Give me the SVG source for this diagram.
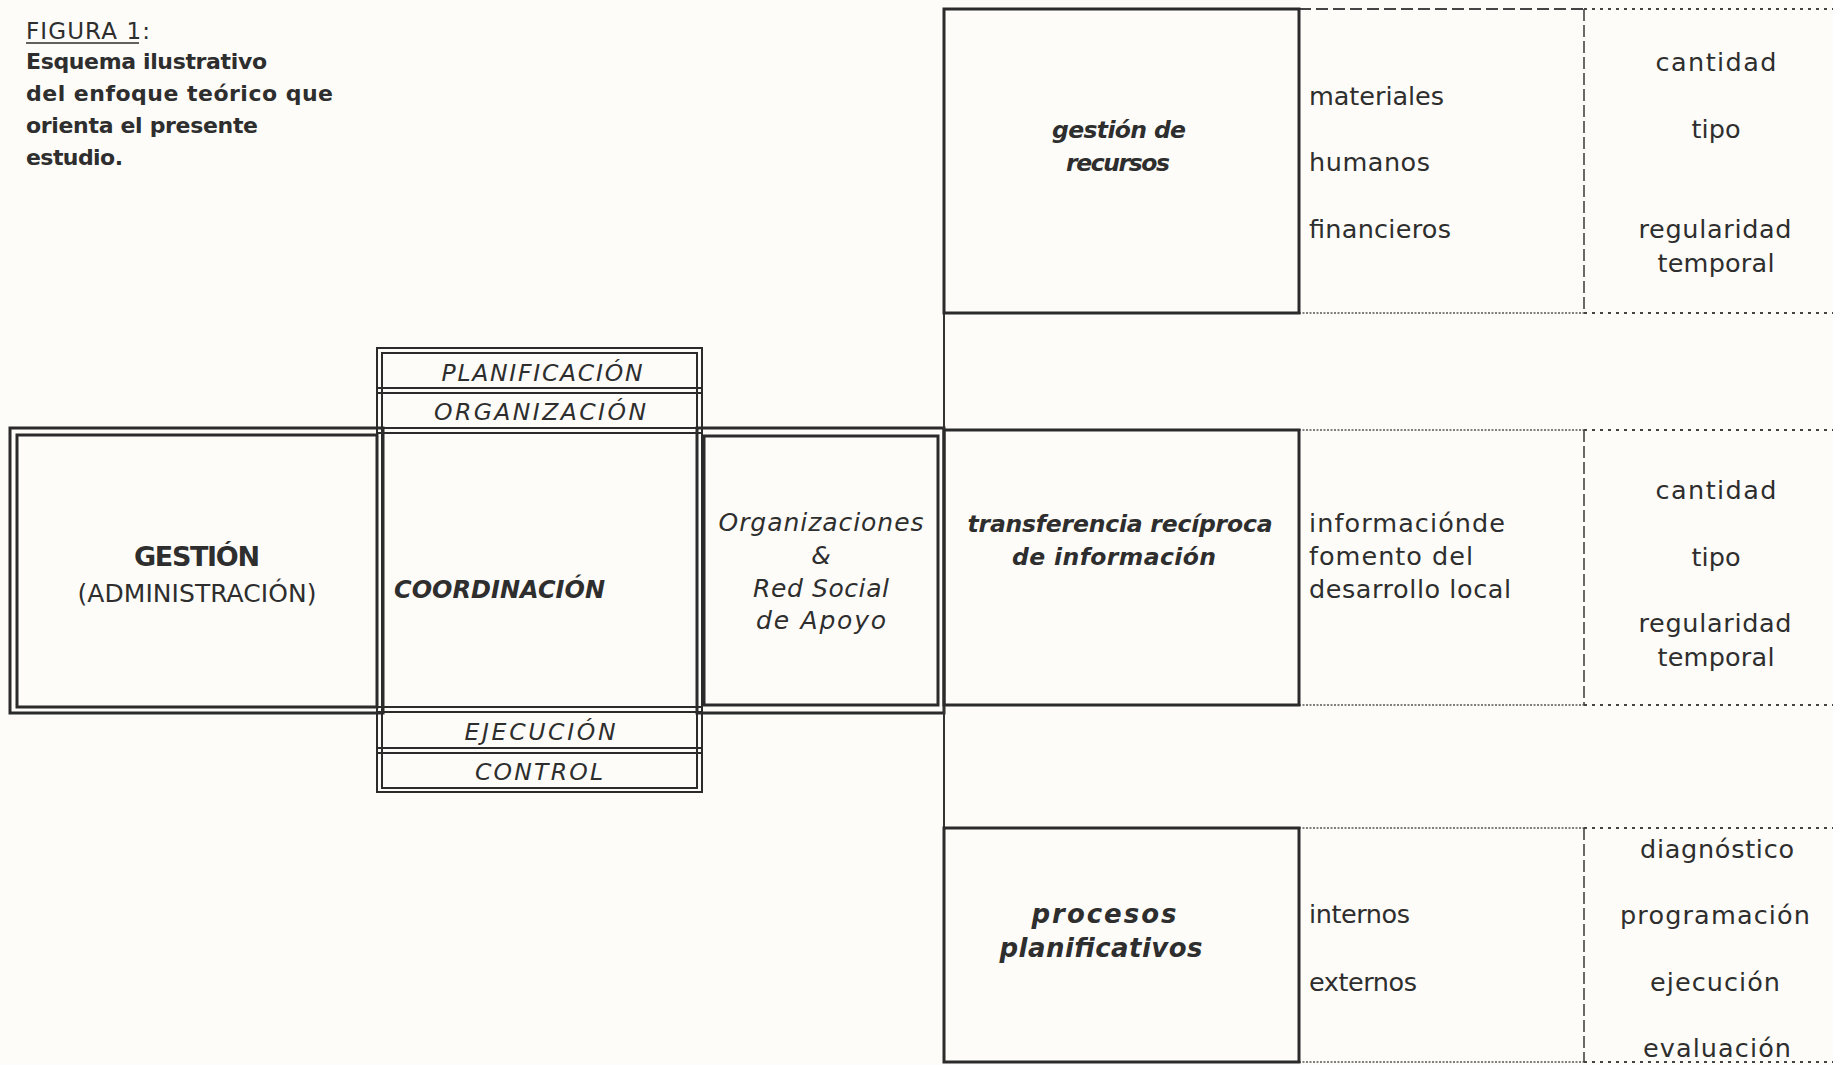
<svg xmlns="http://www.w3.org/2000/svg" width="1833" height="1065" viewBox="0 0 1833 1065">
<style>
text { font-family: "DejaVu Sans", "Liberation Sans", sans-serif; fill: #2e2e2e; }
.reg { font-size: 25.5px; }
.bi { font-size: 23.5px; font-weight: bold; font-style: italic; }
.it { font-size: 23.5px; font-style: italic; }
.tb { font-size: 22px; font-weight: bold; }
.mid { text-anchor: middle; }
.box { fill: none; stroke: #2b2b2b; stroke-width: 3; }
.dbl { fill: none; stroke: #2b2b2b; stroke-width: 2; }
.ln { fill: none; stroke: #333; stroke-width: 2; }
.dash { fill: none; stroke: #444; stroke-width: 2; stroke-dasharray: 12 5; }
.fine { fill: none; stroke: #555; stroke-width: 1.6; stroke-dasharray: 2 1.5; }
.dot { fill: none; stroke: #444; stroke-width: 2.2; stroke-dasharray: 3 5; }
.vdash { fill: none; stroke: #444; stroke-width: 1.6; stroke-dasharray: 12 4; }
</style>
<rect x="0" y="0" width="1833" height="1065" fill="#fdfcf8"/>

<g id="title">
  <text x="26" y="39" style="font-size:23px" textLength="124">FIGURA 1:</text>
  <line x1="26" y1="43" x2="139" y2="43" stroke="#2e2e2e" stroke-width="1.5"/>
  <text class="tb" x="26" y="69" textLength="241">Esquema ilustrativo</text>
  <text class="tb" x="26" y="101" textLength="307">del enfoque teórico que</text>
  <text class="tb" x="26" y="133" textLength="232">orienta el presente</text>
  <text class="tb" x="26" y="165" textLength="97">estudio.</text>
</g>

<g id="node-gestion">
  <rect class="box" x="10" y="428" width="373" height="285"/>
  <rect class="box" x="17" y="435" width="360" height="272" stroke-width="2.5"/>
  <text class="mid" x="197" y="566" style="font-size:27px;font-weight:bold" textLength="126">GESTIÓN</text>
  <text class="mid" x="197" y="602" style="font-size:25px" textLength="239">(ADMINISTRACIÓN)</text>
</g>

<g id="node-funciones">
  <rect class="dbl" x="377" y="348" width="325" height="444"/>
  <rect class="dbl" x="382" y="353" width="315" height="435"/>
  <line class="dbl" x1="377" y1="388" x2="702" y2="388"/>
  <line class="dbl" x1="377" y1="393" x2="702" y2="393"/>
  <line class="dbl" x1="377" y1="428" x2="702" y2="428"/>
  <line class="dbl" x1="377" y1="433" x2="702" y2="433"/>
  <line class="dbl" x1="377" y1="707" x2="702" y2="707"/>
  <line class="dbl" x1="377" y1="712" x2="702" y2="712"/>
  <line class="dbl" x1="377" y1="748" x2="702" y2="748"/>
  <line class="dbl" x1="377" y1="753" x2="702" y2="753"/>
  <g id="node-planificacion"><text class="it mid" x="542" y="381" textLength="201">PLANIFICACIÓN</text></g>
  <g id="node-organizacion"><text class="it mid" x="540" y="420" textLength="212">ORGANIZACIÓN</text></g>
  <g id="node-coordinacion"><text x="394" y="598" style="font-size:24px;font-weight:bold;font-style:italic" textLength="211">COORDINACIÓN</text></g>
  <g id="node-ejecucion"><text class="it mid" x="540" y="740" textLength="151">EJECUCIÓN</text></g>
  <g id="node-control"><text class="it mid" x="539" y="780" textLength="128">CONTROL</text></g>
</g>

<g id="node-organizaciones">
  <rect class="box" x="697" y="428" width="247" height="285"/>
  <rect class="box" x="704" y="436" width="234" height="269" stroke-width="2.5"/>
  <text class="mid" x="821" y="531" style="font-size:25px;font-style:italic" textLength="205">Organizaciones</text>
  <text class="mid" x="821" y="564" style="font-size:25px;font-style:italic">&amp;</text>
  <text class="mid" x="821" y="597" style="font-size:25px;font-style:italic" textLength="136">Red Social</text>
  <text class="mid" x="821" y="629" style="font-size:25px;font-style:italic" textLength="130">de Apoyo</text>
</g>

<g id="connectors">
  <line class="ln" x1="944" y1="313" x2="944" y2="828"/>
</g>

<g id="node-recursos">
  <line class="dash" x1="1299" y1="9" x2="1584" y2="9"/>
  <line class="dot" x1="1584" y1="9" x2="1833" y2="9"/>
  <line class="fine" x1="1299" y1="313" x2="1584" y2="313"/>
  <line class="dot" x1="1584" y1="313" x2="1833" y2="313"/>
  <line class="vdash" x1="1584" y1="9" x2="1584" y2="313"/>
  <rect class="box" x="944" y="9" width="355" height="304"/>
  <text class="bi mid" x="1119" y="138" textLength="134">gestión de</text>
  <text class="bi mid" x="1118" y="171" textLength="104">recursos</text>
  <text class="reg" x="1309" y="105" textLength="135">materiales</text>
  <text class="reg" x="1309" y="171" textLength="121">humanos</text>
  <text class="reg" x="1309" y="238" textLength="142">financieros</text>
  <text class="reg mid" x="1716" y="71" textLength="121">cantidad</text>
  <text class="reg mid" x="1716" y="138" textLength="49">tipo</text>
  <text class="reg mid" x="1715" y="238" textLength="153">regularidad</text>
  <text class="reg mid" x="1716" y="272" textLength="117">temporal</text>
</g>

<g id="node-transferencia">
  <line class="fine" x1="1299" y1="430" x2="1584" y2="430"/>
  <line class="dot" x1="1584" y1="430" x2="1833" y2="430"/>
  <line class="fine" x1="1299" y1="705" x2="1584" y2="705"/>
  <line class="dot" x1="1584" y1="705" x2="1833" y2="705"/>
  <line class="vdash" x1="1584" y1="430" x2="1584" y2="705"/>
  <rect class="box" x="944" y="430" width="355" height="275"/>
  <text class="bi mid" x="1120" y="532" textLength="305">transferencia recíproca</text>
  <text class="bi mid" x="1114" y="565" textLength="204">de información</text>
  <text class="reg" x="1309" y="532" textLength="196">informaciónde</text>
  <text class="reg" x="1309" y="565" textLength="164">fomento del</text>
  <text class="reg" x="1309" y="598" textLength="202">desarrollo local</text>
  <text class="reg mid" x="1716" y="499" textLength="121">cantidad</text>
  <text class="reg mid" x="1716" y="566" textLength="49">tipo</text>
  <text class="reg mid" x="1715" y="632" textLength="153">regularidad</text>
  <text class="reg mid" x="1716" y="666" textLength="117">temporal</text>
</g>

<g id="node-procesos">
  <line class="fine" x1="1299" y1="828" x2="1584" y2="828"/>
  <line class="dot" x1="1584" y1="828" x2="1833" y2="828"/>
  <line class="fine" x1="1299" y1="1062" x2="1584" y2="1062"/>
  <line class="dot" x1="1584" y1="1062" x2="1833" y2="1062"/>
  <line class="vdash" x1="1584" y1="828" x2="1584" y2="1062"/>
  <rect class="box" x="944" y="828" width="355" height="234"/>
  <text class="bi mid" x="1104" y="923" style="font-size:26px" textLength="145">procesos</text>
  <text class="bi mid" x="1101" y="957" style="font-size:26px" textLength="203">planificativos</text>
  <text class="reg" x="1309" y="923" textLength="101">internos</text>
  <text class="reg" x="1309" y="991" textLength="108">externos</text>
  <text class="reg mid" x="1717" y="858" textLength="154">diagnóstico</text>
  <text class="reg mid" x="1715" y="924" textLength="190">programación</text>
  <text class="reg mid" x="1715" y="991" textLength="130">ejecución</text>
  <text class="reg mid" x="1717" y="1057" textLength="148">evaluación</text>
</g>
</svg>
